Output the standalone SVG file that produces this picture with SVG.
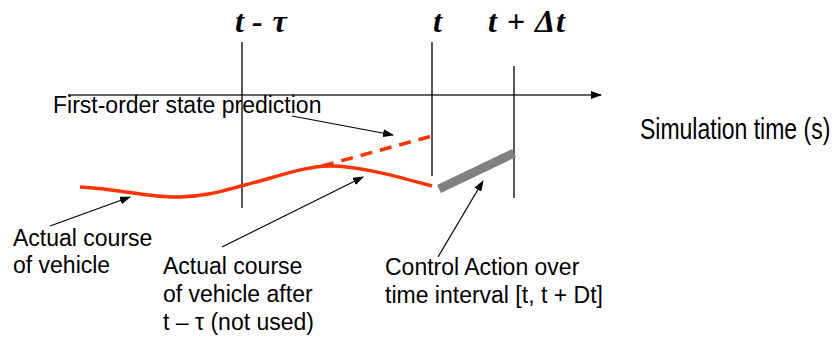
<svg xmlns="http://www.w3.org/2000/svg" width="835" height="340" viewBox="0 0 835 340">
<style>
.lbl{font-family:"Liberation Sans",Arial,sans-serif;font-size:23px;fill:#000}
.tl{font-family:"Liberation Serif","Times New Roman",serif;font-size:32px;font-weight:bold;font-style:italic;fill:#000}
.vl{stroke:#000;stroke-width:1.3;fill:none}
.ar{stroke:#000;stroke-width:1.2;fill:none;marker-end:url(#ah)}
.red{stroke:#ff3300;stroke-width:3.5;fill:none}
</style>
<defs>
<marker id="ah" markerUnits="userSpaceOnUse" markerWidth="11" markerHeight="8" refX="10" refY="4" orient="auto">
<path d="M0,0 L11,4 L0,8 Z" fill="#000"/>
</marker>
</defs>
<rect width="835" height="340" fill="#fff"/>
<g id="axis">
<line x1="68" y1="95" x2="601" y2="95" stroke="#333" stroke-width="1.3" marker-end="url(#ah)"/>
<text class="lbl" transform="translate(640,139) scale(1,1.25)" x="0" y="0" style="font-size:23px">Simulation time (s)</text>
</g>
<g id="t-minus-tau">
<line class="vl" x1="242" y1="42" x2="242" y2="208"/>
<text class="tl" x="235" y="32">t - <tspan dx="2">τ</tspan></text>
</g>
<g id="t-now">
<line class="vl" x1="432" y1="42" x2="432" y2="176" stroke="#444"/>
<text class="tl" x="433" y="32">t</text>
</g>
<g id="t-plus-dt">
<line class="vl" x1="514" y1="66" x2="514" y2="198"/>
<text class="tl" x="488" y="32" textLength="77" lengthAdjust="spacing">t + Δt</text>
</g>
<g id="actual-course">
<path class="red" d="M80,187 C120,189 150,198 180,197 C210,196 225,190 245,185 C280,176 305,166 330,166 C360,166 395,176 432,186"/>
</g>
<g id="prediction">
<line class="red" x1="322" y1="166" x2="432" y2="136" stroke-dasharray="12,8"/>
</g>
<g id="control-action">
<line x1="439" y1="189" x2="514" y2="153" stroke="#808080" stroke-width="9"/>
</g>
<g id="label-prediction">
<text class="lbl" x="53" y="113">First-order state prediction</text>
</g>
<g id="label-actual">
<text class="lbl" x="13" y="246">Actual course</text>
<text class="lbl" x="13" y="273">of vehicle</text>
</g>
<g id="label-after">
<text class="lbl" x="163" y="274">Actual course</text>
<text class="lbl" x="163" y="302">of vehicle after</text>
<text class="lbl" x="163" y="330">t – τ (not used)</text>
</g>
<g id="label-control">
<text class="lbl" x="385" y="275">Control Action over</text>
<text class="lbl" x="385" y="303">time interval [t, t + Dt]</text>
</g>
<g id="connectors">
<line class="ar" x1="292" y1="116" x2="393" y2="135"/>
<line class="ar" x1="50" y1="226" x2="130" y2="197"/>
<line class="ar" x1="222" y1="247" x2="363" y2="177"/>
<line class="ar" x1="438" y1="257" x2="483" y2="181"/>
</g>
</svg>
